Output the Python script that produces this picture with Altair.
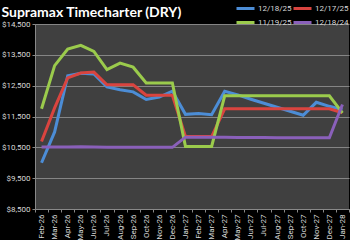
import altair as alt
import pandas as pd

months = ["Feb-26", "Mar-26", "Apr-26", "May-26", "Jun-26", "Jul-26", "Aug-26", "Sep-26",
          "Oct-26", "Nov-26", "Dec-26", "Jan-27", "Feb-27", "Mar-27", "Apr-27", "May-27",
          "Jun-27", "Jul-27", "Aug-27", "Sep-27", "Oct-27", "Nov-27", "Dec-27", "Jan-28"]

s_121825 = [10000, 11000, 12820, 12900, 12880, 12460, 12370, 12300, 12050, 12130, 12320, 11570,
            11600, 11560, 12320, 12200, 12060, 11930, 11800, 11670, 11540, 11960, 11830, 11720]
s_121725 = [10690, 11780, 12750, 12910, 12940, 12530, 12530, 12530, 12190, 12190, 12190, 10850,
            10850, 10850, 11750, 11750, 11750, 11750, 11750, 11750, 11750, 11750, 11750, 11620]
s_111925 = [11750, 13150, 13690, 13810, 13610, 13020, 13230, 13100, 12590, 12590, 12590, 10530,
            10530, 10530, 12170, 12170, 12170, 12170, 12170, 12170, 12170, 12170, 12170, 11620]
s_121824 = [10510, 10510, 10510, 10520, 10510, 10500, 10500, 10500, 10500, 10500, 10500, 10830,
            10830, 10830, 10830, 10820, 10820, 10820, 10810, 10810, 10810, 10810, 10810, 11890]

series_names = ["12/18/25", "12/17/25", "11/19/25", "12/18/24"]
series_values = [s_121825, s_121725, s_111925, s_121824]
colors = ["#4C8DD6", "#D9443F", "#9BCB4C", "#8A60BA"]

rows = []
for name, vals in zip(series_names, series_values):
    for m, v in zip(months, vals):
        rows.append({"month": m, "value": v, "series": name})
df = pd.DataFrame(rows)

FONT = "Liberation Sans Narrow, Roboto, Lato, sans-serif"

chart = alt.Chart(df).mark_line(strokeWidth=3).encode(
    x=alt.X("month:O", sort=months, bandPosition=0.5,
            scale=alt.Scale(type="band", paddingInner=0, paddingOuter=0),
            axis=alt.Axis(title=None, labelAngle=270, labelFontSize=8, labelColor="#D9D9D9",
                          labelFont=FONT, tickBand="extent", tickSize=3, tickColor="#888888",
                          domainColor="#888888", labelPadding=2, grid=False)),
    y=alt.Y("value:Q", scale=alt.Scale(domain=[8500, 14500], nice=False, zero=False),
            axis=alt.Axis(title=None, values=[8500, 9500, 10500, 11500, 12500, 13500, 14500],
                          format="$,.0f", labelFontSize=8, labelColor="#D9D9D9", labelFont=FONT,
                          tickSize=3, tickColor="#888888", domainColor="#888888",
                          gridColor="#858585", gridWidth=1, labelPadding=2)),
    color=alt.Color("series:N", sort=series_names,
                    scale=alt.Scale(domain=series_names, range=colors),
                    legend=alt.Legend(title=None, orient="none", legendX=200, legendY=-21.5,
                                      columns=2, direction="horizontal", symbolType="M-1,0H3",
                                      symbolSize=81, symbolStrokeWidth=3, labelFontSize=8,
                                      labelColor="#D9D9D9", labelFont=FONT, labelOffset=11,
                                      columnPadding=-7, rowPadding=2)),
).properties(
    width=314, height=185,
    title=alt.TitleParams("Supramax Timecharter (DRY)", anchor="start", dx=0, dy=37, offset=9,
                          baseline="alphabetic", fontSize=14, font="Lato", fontWeight="bold",
                          color="#FFFFFF"),
    autosize=alt.AutoSizeParams(type="none"),
    padding={"left": 35, "top": 24, "right": 1, "bottom": 31},
    background="#000000",
).configure_view(fill="#404040", stroke=None)

chart.save("out.html", embed_options={"renderer": "svg", "actions": False})
